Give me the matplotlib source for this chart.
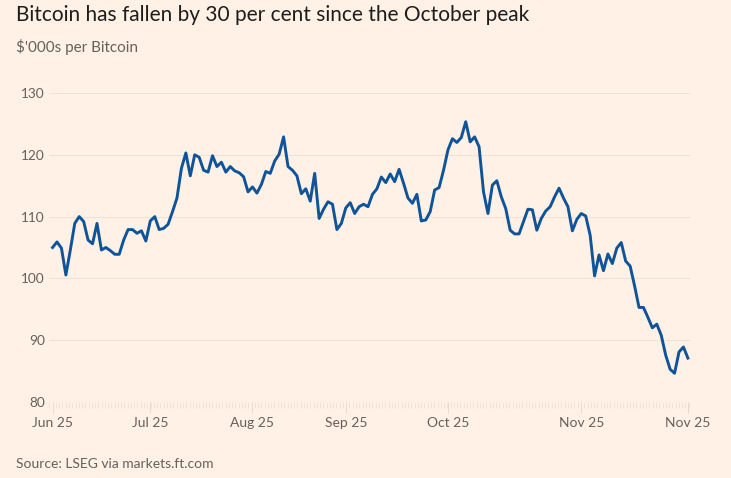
import numpy as np
import matplotlib
matplotlib.use("Agg")
import matplotlib.pyplot as plt

# Bitcoin price, $'000s, one value per trading session
price = [
    105.0, 105.9, 104.9, 100.55, 104.6, 108.9, 110.0, 109.2, 106.2, 105.6,
    108.9, 104.6, 105.0, 104.5, 103.9, 103.9, 106.2, 107.9, 107.9, 107.3,
    107.7, 106.05, 109.3, 110.0, 107.9, 108.1, 108.75, 110.8, 113.0, 117.8,
    120.3, 116.6, 120.0, 119.6, 117.5, 117.2,
    119.85, 118.1, 118.8, 117.2, 118.1, 117.4, 117.1, 116.45, 114.0, 114.8,
    113.8, 115.2, 117.3, 117.0, 119.0, 120.1, 122.9, 118.1, 117.5, 116.6,
    113.7, 114.5, 112.5, 117.0, 109.7, 111.2, 112.4, 112.0, 107.9, 108.9,
    111.4, 112.25, 110.5, 111.6, 112.0, 111.6,
    113.6, 114.5, 116.4, 115.5, 116.9, 115.65, 117.65, 115.4, 113.0, 112.15,
    113.6, 109.3, 109.45, 110.8, 114.3, 114.7, 117.5, 120.8, 122.6, 122.0,
    122.8, 125.35, 122.1, 122.9, 121.3, 114.0, 110.5, 115.1, 115.8, 113.2,
    111.3, 107.8, 107.2, 107.2, 109.2, 111.2,
    111.1, 107.8, 109.7, 110.9, 111.6, 113.2, 114.6, 113.0, 111.6, 107.7,
    109.55, 110.5, 110.1, 107.0, 100.4, 103.8, 101.25, 103.95, 102.4, 104.9,
    105.8, 102.8, 102.0, 98.8, 95.3, 95.3, 93.7, 92.0, 92.6, 90.8,
    87.6, 85.3, 84.65, 88.1, 88.9, 87.1,
]
tick_pos = [0, 22, 45, 66, 89, 119, 143]
tick_labels = ["Jun 25", "Jul 25", "Aug 25", "Sep 25", "Oct 25", "Nov 25", "Nov 25"]
y_ticks = [80, 90, 100, 110, 120, 130]

bg = "#FFF1E5"
grey = "#66605C"
plt.rcParams['font.family'] = ['Lato', 'DejaVu Sans']

fig = plt.figure(figsize=(7.31, 4.78), dpi=100, facecolor=bg)
ax = fig.add_axes([49 / 731, 76 / 478, 642 / 731, 309 / 478], facecolor=bg)

x = np.arange(len(price))
ax.plot(x, price, color="#0F5499", lw=2.1, solid_joinstyle="round", zorder=3)

ax.set_ylim(80, 130)
ax.set_xlim(-0.8, 143.7)
ax.set_yticks(y_ticks)
ax.set_yticklabels([str(v) for v in y_ticks])
for v in y_ticks:
    ax.axhline(v, color="#F0E2D6", lw=0.8, zorder=1)

ax.set_xticks(tick_pos)
ax.set_xticklabels(tick_labels)
ax.set_xticks(np.arange(-0.7, 143.8, 0.734), minor=True)

for s in ax.spines.values():
    s.set_visible(False)

ax.tick_params(axis="y", length=0, pad=3, labelsize=9.8, labelcolor=grey)
ax.tick_params(axis="x", which="major", length=8, width=0.6, color="#E3D5C8",
               pad=3, labelsize=10, labelcolor=grey)
ax.tick_params(axis="x", which="minor", length=4, width=0.5, color="#EADCCF")

fig.text(16 / 731, 1 - 21 / 478, "Bitcoin has fallen by 30 per cent since the October peak",
         fontsize=15, color="#1F1D1C", va="baseline", ha="left")
fig.text(16 / 731, 1 - 51.7 / 478, "$'000s per Bitcoin",
         fontsize=11, color=grey, va="baseline", ha="left")
fig.text(16 / 731, 1 - 468 / 478, "Source: LSEG via markets.ft.com",
         fontsize=10, color=grey, va="baseline", ha="left")

fig.savefig("out.png", dpi=100, facecolor=bg)
